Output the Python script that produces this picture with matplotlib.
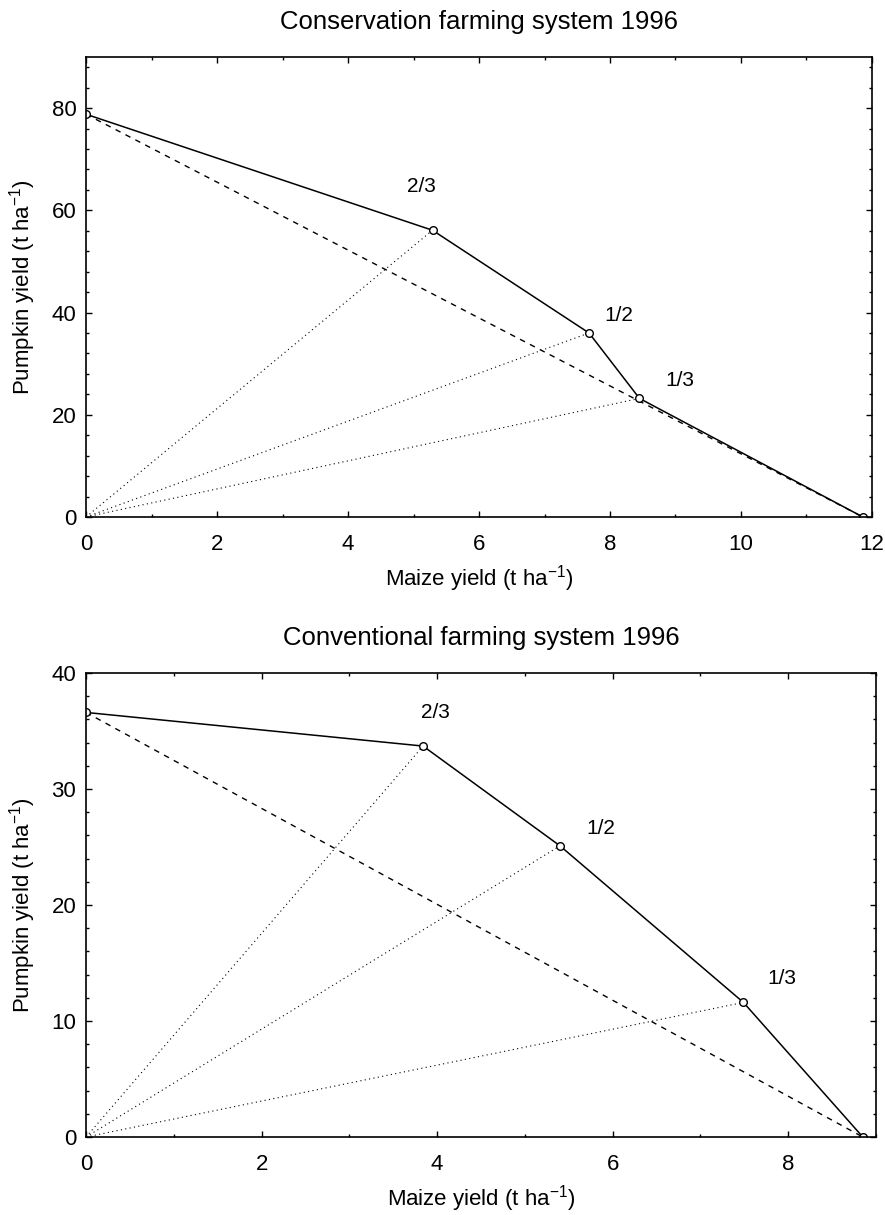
import matplotlib
matplotlib.use("Agg")
import matplotlib.pyplot as plt
from matplotlib.ticker import MultipleLocator

plt.rcParams["font.family"] = ["Liberation Sans", "DejaVu Sans"]
plt.rcParams["mathtext.fontset"] = "custom"
plt.rcParams["mathtext.rm"] = "Liberation Sans"
plt.rcParams["mathtext.it"] = "Liberation Sans"

# --------------------------
# DATA
# --------------------------
ratio_labels = ["2/3", "1/2", "1/3"]

# Conservation farming system 1996
cons_maize = [0.0, 5.29, 7.68, 8.45, 11.86]
cons_pumpkin = [78.8, 56.1, 36.0, 23.2, 0.0]
cons_label_x = [5.12, 8.14, 9.07]
cons_label_y = [64.6, 39.5, 26.8]

# Conventional farming system 1996
conv_maize = [0.0, 3.84, 5.40, 7.49, 8.85]
conv_pumpkin = [36.6, 33.7, 25.1, 11.6, 0.0]
conv_label_x = [3.98, 5.86, 7.93]
conv_label_y = [36.6, 26.6, 13.7]

panels = [
    dict(title="Conservation farming system 1996", x=cons_maize, y=cons_pumpkin,
         lx=cons_label_x, ly=cons_label_y, xlim=(0, 12), ylim=(0, 90),
         xmaj=2, xmin=1, ymaj=20, ymin=4,
         pos=[0.0972, 0.5745, 0.8881, 0.3786]),
    dict(title="Conventional farming system 1996", x=conv_maize, y=conv_pumpkin,
         lx=conv_label_x, ly=conv_label_y, xlim=(0, 9), ylim=(0, 40),
         xmaj=2, xmin=1, ymaj=10, ymin=2,
         pos=[0.0972, 0.0642, 0.8926, 0.3819]),
]

fig = plt.figure(figsize=(8.85, 12.15), dpi=100)

for p in panels:
    ax = fig.add_axes(p["pos"])
    x, y = p["x"], p["y"]

    # dotted rays from the origin to each intercropping point
    for xi, yi in zip(x[1:-1], y[1:-1]):
        ax.plot([0, xi], [0, yi], linestyle=(0, (1, 3)), color="black", lw=0.8)

    # dashed line between the two sole crops
    ax.plot([x[0], x[-1]], [y[0], y[-1]], linestyle=(0, (4, 4)), color="black", lw=1.0)

    # solid yield frontier with open circles
    ax.plot(x, y, color="black", lw=1.1, marker="o", markersize=5.5,
            markerfacecolor="white", markeredgecolor="black", markeredgewidth=1.0)

    for lab, tx, ty in zip(ratio_labels, p["lx"], p["ly"]):
        ax.text(tx, ty, lab, fontsize=15, ha="center", va="center")

    ax.set_xlim(*p["xlim"])
    ax.set_ylim(*p["ylim"])
    ax.xaxis.set_major_locator(MultipleLocator(p["xmaj"]))
    ax.xaxis.set_minor_locator(MultipleLocator(p["xmin"]))
    ax.yaxis.set_major_locator(MultipleLocator(p["ymaj"]))
    ax.yaxis.set_minor_locator(MultipleLocator(p["ymin"]))
    ax.tick_params(which="both", direction="in", top=True, right=True, labelsize=16)
    ax.tick_params(axis="x", which="major", pad=12)
    ax.tick_params(axis="y", which="major", pad=7)
    ax.tick_params(which="major", length=4, width=1)
    ax.tick_params(which="minor", length=2.5, width=1)
    for s in ax.spines.values():
        s.set_linewidth(1.2)

    ax.set_title(p["title"], fontsize=18.5, pad=20)
    ax.set_xlabel("Maize yield (t ha$^{-1}$)", fontsize=16, labelpad=6)
    ax.set_ylabel("Pumpkin yield (t ha$^{-1}$)", fontsize=16, labelpad=10)

fig.savefig("out.png", dpi=100)
